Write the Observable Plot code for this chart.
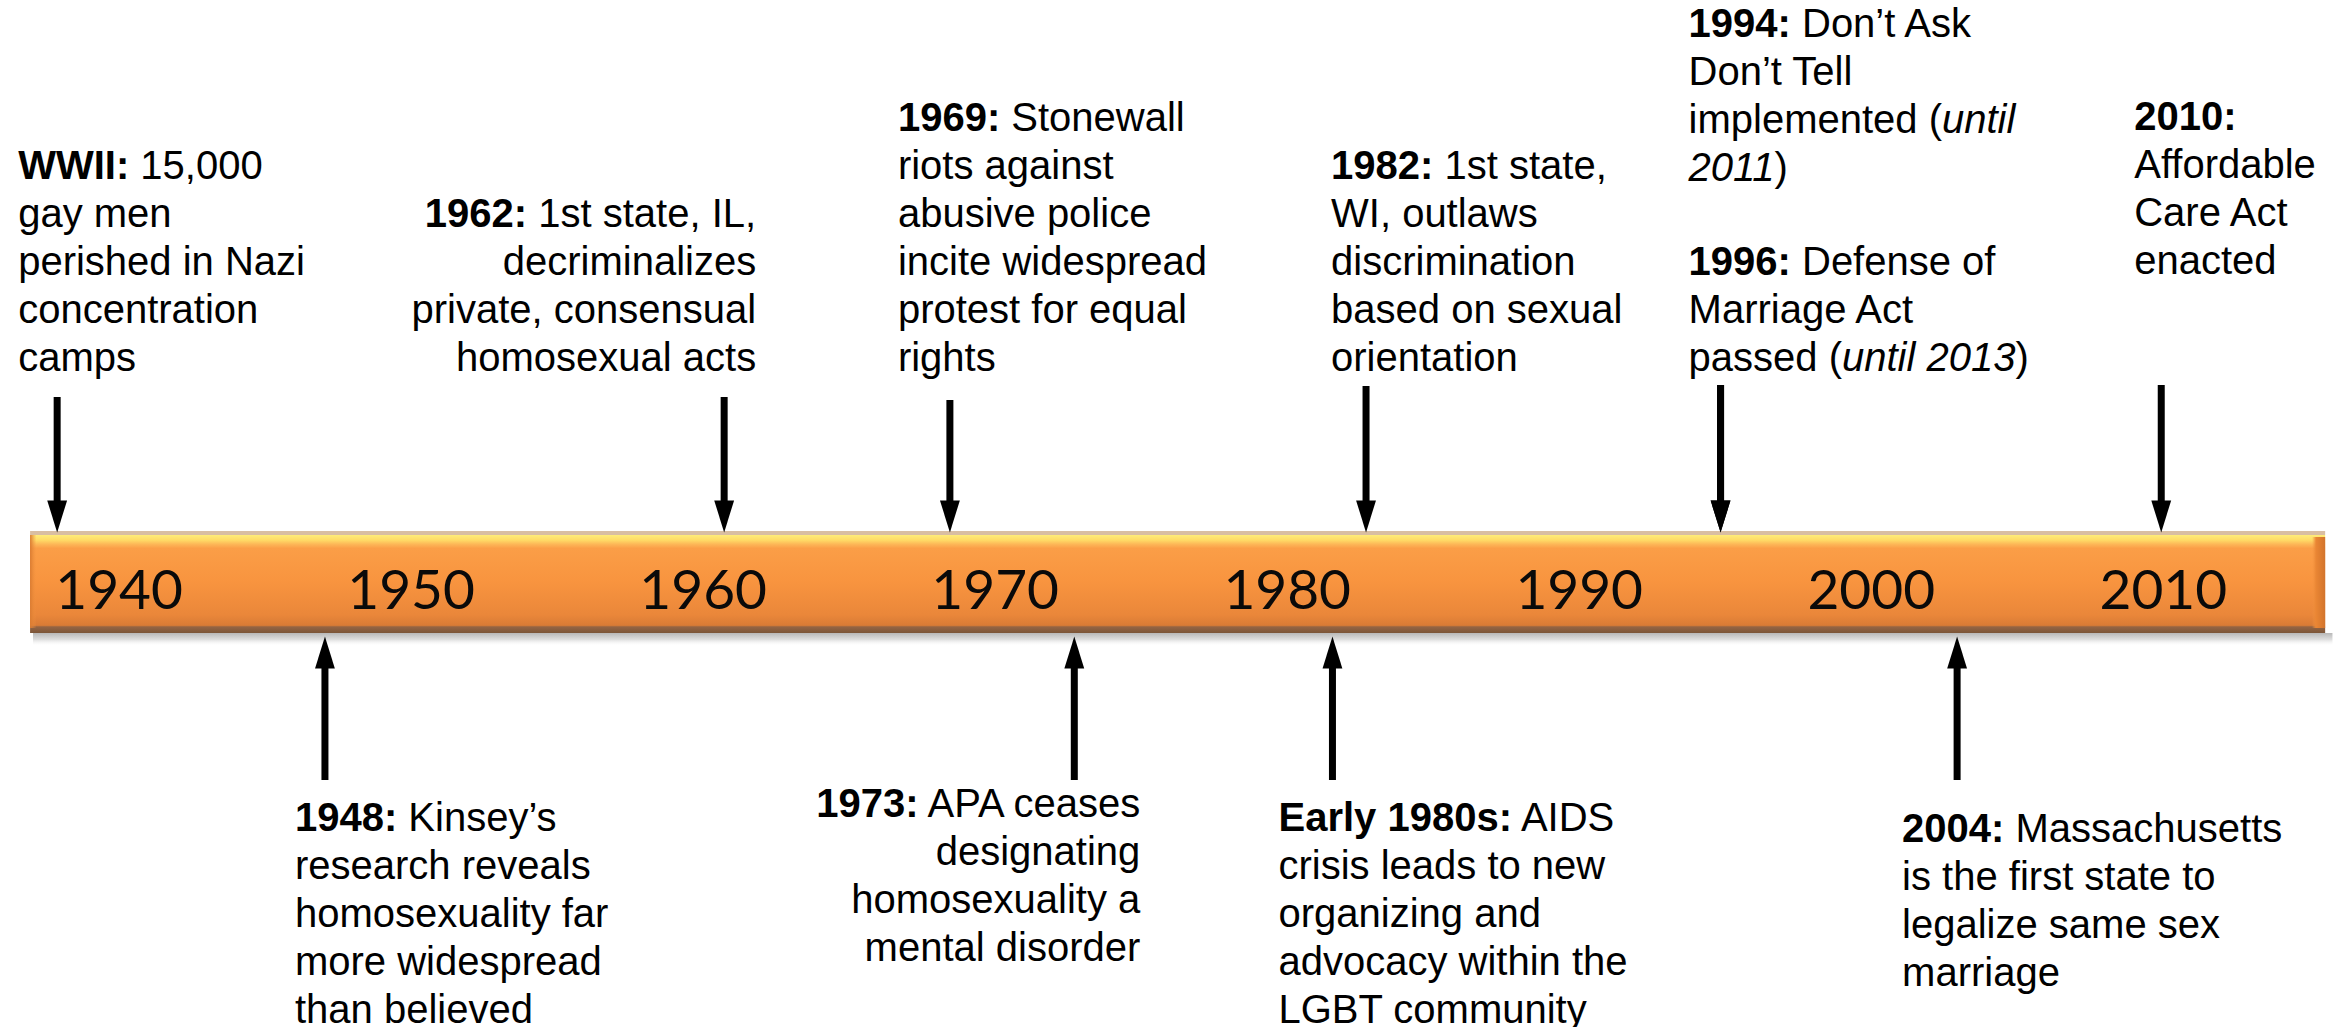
<!DOCTYPE html>
<html>
<head>
<meta charset="utf-8">
<script src="https://cdn.jsdelivr.net/npm/d3@7"></script>
<script src="https://cdn.jsdelivr.net/npm/@observablehq/plot@0.6"></script>
<style>
  html, body { margin: 0; padding: 0; background: #ffffff; }
  #chart svg { display: block; }
</style>
</head>
<body>
<div id="chart"></div>
<script>
// ---------------- data ----------------
const decades = [1940, 1950, 1960, 1970, 1980, 1990, 2000, 2010];

const eventHeads = ["WWII:", "1948:", "1962:", "1969:", "1973:", "Early 1980s:", "1982:", "1994:", "1996:", "2004:", "2010:"];

const eventBodies = [
  " 15,000\ngay men\nperished in Nazi\nconcentration\ncamps",
  " Kinsey’s\nresearch reveals\nhomosexuality far\nmore widespread\nthan believed",
  " 1st state, IL,\ndecriminalizes\nprivate, consensual\nhomosexual acts",
  " Stonewall\nriots against\nabusive police\nincite widespread\nprotest for equal\nrights",
  " APA ceases\ndesignating\nhomosexuality a\nmental disorder",
  " AIDS\ncrisis leads to new\norganizing and\nadvocacy within the\nLGBT community",
  " 1st state,\nWI, outlaws\ndiscrimination\nbased on sexual\norientation",
  " Don’t Ask\nDon’t Tell\nimplemented (_until_\n_2011_)",
  " Defense of\nMarriage Act\npassed (_until 2013_)",
  " Massachusetts\nis the first state to\nlegalize same sex\nmarriage",
  "\nAffordable\nCare Act\nenacted"
];

// where each arrow meets the timeline, in years, as drawn in the picture
const eventAt = [1937.88, 1947.05, 1960.72, 1968.45, 1972.71, 1981.55, 1982.7, 1994.84, 1994.84, 2002.94, 2009.93];

const eventSide = ["above", "below", "above", "above", "below", "below", "above", "above", "above", "below", "above"];

// extent of the orange timeline bar, in years
const timelineSpan = [1936.97, 2015.56];

// ---------------- layout (y units: pixels above bar centre) ----------------
const BAR_TOP = 51, BAR_BOTTOM = -51;
const HEAD = 32;
const layout = {
  "WWII:":        {anchor: "start", dx: -39, ty: 212,  line: "bottom", top: 185},
  "1962:":        {anchor: "end",   dx: 32,  ty: 212,  line: "bottom", top: 185},
  "1969:":        {anchor: "start", dx: -52, ty: 212,  line: "bottom", top: 182},
  "1982:":        {anchor: "start", dx: -35, ty: 212,  line: "bottom", top: 196},
  "1994:":        {anchor: "start", dx: -32, ty: 402,  line: "bottom", top: 197},
  "1996:":        {anchor: "start", dx: -32, ty: 212,  line: "bottom", top: 197},
  "2010:":        {anchor: "start", dx: -27, ty: 309,  line: "bottom", top: 197},
  "1948:":        {anchor: "start", dx: -30, ty: -214, line: "top",    top: -198},
  "1973:":        {anchor: "end",   dx: 66,  ty: -200, line: "top",    top: -198},
  "Early 1980s:": {anchor: "start", dx: -54, ty: -214, line: "top",    top: -198},
  "2004:":        {anchor: "start", dx: -55, ty: -225, line: "top",    top: -198}
};

const events = eventHeads.map((head, i) => ({
  head,
  text: `**${head}**${eventBodies[i]}`,
  at: eventAt[i],
  side: eventSide[i],
  ...layout[head]
}));
const above = events.filter(d => d.side === "above");
const below = events.filter(d => d.side === "below");

// narrow filled arrowheads (tip at the origin)
const headDown = {draw(ctx, size) { const r = Math.sqrt(size / Math.PI); ctx.moveTo(0, 0); ctx.lineTo(-0.62 * r, -2 * r); ctx.lineTo(0.62 * r, -2 * r); ctx.closePath(); }};
const headUp = {draw(ctx, size) { const r = Math.sqrt(size / Math.PI); ctx.moveTo(0, 0); ctx.lineTo(-0.62 * r, 2 * r); ctx.lineTo(0.62 * r, 2 * r); ctx.closePath(); }};

const textFont = "'Liberation Sans', Arial, Helvetica, sans-serif";

const eventTextMarks = events.map(e => Plot.text([e], {
  x: "at", y: "ty", text: "text",
  dx: e.dx,
  textAnchor: e.anchor,
  lineAnchor: e.line,
  lineHeight: 1.2,
  fontSize: 40,
  fontFamily: textFont,
  fill: "#000"
}));

const svg = Plot.plot({
  width: 2338,
  height: 1027,
  margin: 0,
  x: {domain: [1935.94, 2016.0], axis: null},
  y: {domain: [-445, 582], axis: null},
  style: {background: "#ffffff", overflow: "visible"},
  marks: [
    // soft shadow under the bar
    Plot.rect([timelineSpan], {x1: d => d[0] + 0.1, x2: d => d[1] + 0.25, y1: () => BAR_BOTTOM - 13, y2: () => BAR_BOTTOM, fill: "url(#shadowGrad)"}),
    // main bar
    Plot.rect([timelineSpan], {x1: d => d[0], x2: d => d[1], y1: () => BAR_BOTTOM, y2: () => BAR_TOP, fill: "url(#barGrad)"}),
    // end bevels
    Plot.rect([timelineSpan], {x1: d => d[1] - 0.45, x2: d => d[1], y1: () => BAR_BOTTOM + 5, y2: () => BAR_TOP - 6, fill: "url(#bevelR)"}),
    Plot.rect([timelineSpan], {x1: d => d[0], x2: d => d[0] + 0.22, y1: () => BAR_BOTTOM + 5, y2: () => BAR_TOP - 4, fill: "url(#bevelL)"}),
    // decade labels on the bar
    Plot.text(decades, {x: d => d, y: () => -26, text: d => String(d), lineAnchor: "bottom", fontSize: 55, fontFamily: "Lato, 'Open Sans', sans-serif", fill: "#0a0a0a"}),
    // arrows above
    Plot.ruleX(above, {x: "at", y1: "top", y2: () => BAR_TOP + HEAD - 2, stroke: "#000", strokeWidth: 7}),
    Plot.dot(above, {x: "at", y: () => BAR_TOP - 1, symbol: headDown, r: 16, fill: "#000", stroke: "none"}),
    // arrows below
    Plot.ruleX(below, {x: "at", y1: "top", y2: () => BAR_BOTTOM - 4 - HEAD + 2, stroke: "#000", strokeWidth: 7}),
    Plot.dot(below, {x: "at", y: () => BAR_BOTTOM - 3, symbol: headUp, r: 16, fill: "#000", stroke: "none"}),
    ...eventTextMarks
  ]
});

// gradients
const defs = d3.select(svg).insert("defs", ":first-child");
const lg = (id, vertical, stops) => {
  const g = defs.append("linearGradient").attr("id", id)
    .attr("x1", 0).attr("y1", 0).attr("x2", vertical ? 0 : 1).attr("y2", vertical ? 1 : 0);
  stops.forEach(([o, c, a]) => g.append("stop").attr("offset", o).attr("stop-color", c).attr("stop-opacity", a == null ? 1 : a));
};
lg("barGrad", true, [
  [0, "#d9bea2"], [0.035, "#d9bea2"], [0.04, "#ffec78"], [0.09, "#ffda66"],
  [0.13, "#fdb757"], [0.17, "#fb9e47"], [0.5, "#f8943f"], [0.82, "#ea873a"],
  [0.925, "#d97b35"], [0.94, "#946443"], [1, "#7b5538"]
]);
lg("shadowGrad", true, [[0, "#b8b8b8"], [0.5, "#dedede"], [1, "#ffffff", 0]]);
lg("bevelR", false, [[0, "#f29340", 0], [0.3, "#ea8634"], [1, "#d2742c"]]);
lg("bevelL", false, [[0, "#d97a30"], [1, "#f39440", 0]]);

// rich text: **bold** and _italic_
function enrich(node) {
  const s = node.textContent;
  if (!/\*\*|_/.test(s)) return;
  while (node.firstChild) node.removeChild(node.firstChild);
  const re = /(\*\*[^*]+\*\*|_[^_]+_)/g;
  let last = 0, m;
  while ((m = re.exec(s))) {
    if (m.index > last) node.appendChild(document.createTextNode(s.slice(last, m.index)));
    const t = document.createElementNS("http://www.w3.org/2000/svg", "tspan");
    if (m[0].startsWith("**")) { t.setAttribute("font-weight", "bold"); t.textContent = m[0].slice(2, -2); }
    else { t.setAttribute("font-style", "italic"); t.textContent = m[0].slice(1, -1); }
    node.appendChild(t);
    last = m.index + m[0].length;
  }
  if (last < s.length) node.appendChild(document.createTextNode(s.slice(last)));
}
d3.select(svg).selectAll("text").each(function() {
  const spans = Array.from(this.children).filter(c => c.tagName === "tspan");
  if (spans.length) spans.forEach(enrich); else enrich(this);
});

document.getElementById("chart").appendChild(svg);
</script>
</body>
</html>
